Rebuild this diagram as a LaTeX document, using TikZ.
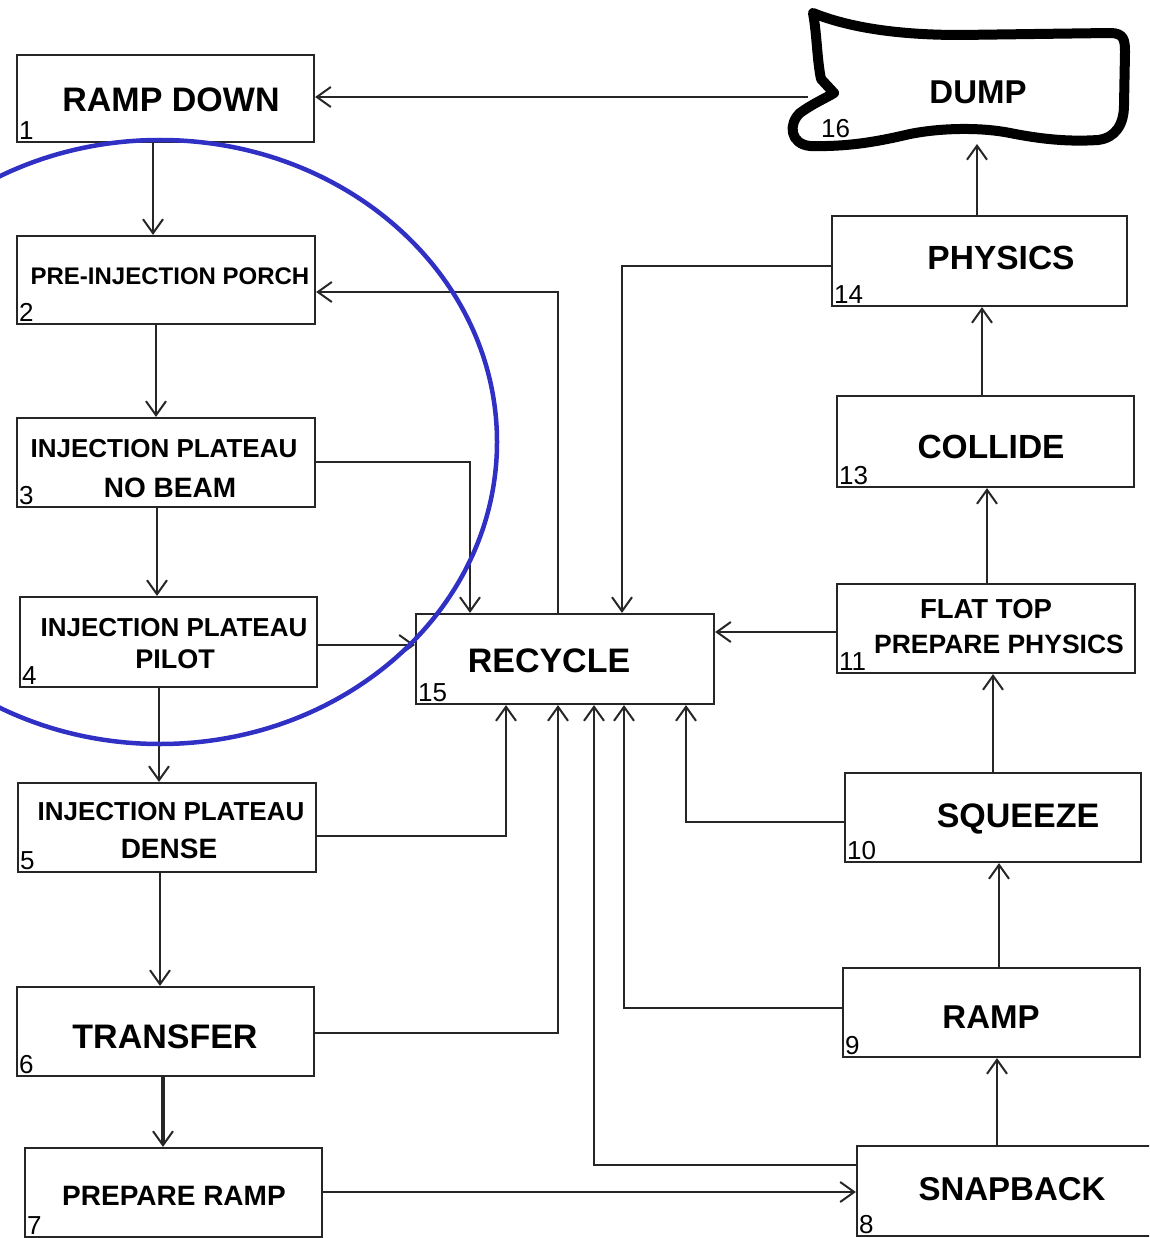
\documentclass[tikz,border=0pt]{standalone}
\usepackage{fontspec}
\setmainfont{Liberation Sans}
\usetikzlibrary{arrows.meta,fit}
\tikzset{
  box/.style={draw=black!85, line width=2.2pt, inner sep=0pt, rectangle},
  lab/.style={font=\bfseries\fontsize{#1}{#1}\selectfont, inner sep=0pt, anchor=base},
  num/.style={font=\fontsize{26}{26}\selectfont, anchor=south west, inner sep=3pt},
  conn/.style={draw=black!85, line width=2.1pt},
  arr/.style={conn, -{Straight Barb[length=14pt,width=20pt,line width=2pt]}},
}
\definecolor{ringblue}{RGB}{48,48,196}
\begin{document}
\begin{tikzpicture}[x=1pt,y=-1pt]
\useasboundingbox (0,0) rectangle (1149,1238);
\clip (0,0) rectangle (1149,1238);
% boxes
\node[box, fit={(17,55) (314,142)}] (b1) {};
\node[box, fit={(17,236) (315,324)}] (b2) {};
\node[box, fit={(17,418) (315,507)}] (b3) {};
\node[box, fit={(20,597) (317,687)}] (b4) {};
\node[box, fit={(18,783) (316,872)}] (b5) {};
\node[box, fit={(17,987) (314,1076)}] (b6) {};
\node[box, fit={(25,1148) (322,1237)}] (b7) {};
\node[box, fit={(857,1146) (1152,1236)}] (b8) {};
\node[box, fit={(843,968) (1140,1057)}] (b9) {};
\node[box, fit={(845,773) (1141,862)}] (b10) {};
\node[box, fit={(837,584) (1135,673)}] (b11) {};
\node[box, fit={(837,396) (1134,487)}] (b13) {};
\node[box, fit={(832,216) (1127,306)}] (b14) {};
\node[box, fit={(416,614) (714,704)}] (b15) {};
% dump shape
\draw[line width=10pt, line join=round, line cap=round]
  (813,13) .. controls (850,28) and (900,35) .. (960,35) -- (1110,33)
  .. controls (1124,33) and (1125,40) .. (1125,52) -- (1124,105)
  .. controls (1124,125) and (1115,138) .. (1098,140)
  .. controls (1068,142) and (1040,139) .. (1010,133)
  .. controls (980,127) and (940,128) .. (910,134)
  .. controls (880,141) and (850,147) .. (810,146)
  .. controls (790,144) and (788,124) .. (800,113)
  .. controls (812,104) and (826,98) .. (834,93)
  -- (821,79) .. controls (817,60) and (817,35) .. (813,13);
\coordinate (dumpin) at (808,97);
\coordinate (dumpbot) at (977,144);
% labels
\node[lab=34] (t1) at (171,112) {RAMP DOWN};
\node[lab=24] (t2) at (170,285) {PRE-INJECTION PORCH};
\node[lab=26] (t3a) at (164,457) {INJECTION PLATEAU};
\node[lab=28] (t3b) at (170,497) {NO BEAM};
\node[lab=26] (t4a) at (174,636) {INJECTION PLATEAU};
\node[lab=27] (t4b) at (175,668) {PILOT};
\node[lab=26] (t5a) at (171,820) {INJECTION PLATEAU};
\node[lab=28] (t5b) at (169,858) {DENSE};
\node[lab=34] (t6) at (165,1048) {TRANSFER};
\node[lab=28] (t7) at (174,1205) {PREPARE RAMP};
\node[lab=33] (t8) at (1012,1200) {SNAPBACK};
\node[lab=33] (t9) at (991,1028) {RAMP};
\node[lab=34] (t10) at (1018,827) {SQUEEZE};
\node[lab=27.5] (t11a) at (986,618) {FLAT TOP};
\node[lab=26.5] (t11b) at (999,653) {PREPARE PHYSICS};
\node[lab=33.5] (t13) at (991,458) {COLLIDE};
\node[lab=33.5] (t14) at (1001,270) {PHYSICS};
\node[lab=34] (t15) at (549,672) {RECYCLE};
\node[lab=33] (t16) at (978,104) {DUMP};
% numbers
\node[num] (n1) at (b1.south west) {1};
\node[num] (n2) at (b2.south west) {2};
\node[num] (n3) at (b3.south west) {3};
\node[num] (n4) at (b4.south west) {4};
\node[num] (n5) at (b5.south west) {5};
\node[num] (n6) at (b6.south west) {6};
\node[num] (n7) at (b7.south west) {7};
\node[num] (n8) at (b8.south west) {8};
\node[num] (n9) at (b9.south west) {9};
\node[num] (n10) at (b10.south west) {10};
\node[num] (n11) at (b11.south west) {11};
\node[num] (n13) at (b13.south west) {13};
\node[num] (n14) at (b14.south west) {14};
\node[num] (n15) at (b15.south west) {15};
\node[num, anchor=base west, inner sep=0pt] (n16) at (821,138) {16};
% main chain
\draw[arr] (dumpin) -- (b1.east |- dumpin);
\draw[arr] (b1.south -| 153,0) -- (b2.north -| 153,0);
\draw[arr] (b2.south -| 156,0) -- (b3.north -| 156,0);
\draw[arr] (b3.south -| 157,0) -- (b4.north -| 157,0);
\draw[arr] (b4.south -| 159,0) -- (b5.north -| 159,0);
\draw[arr] (b5.south -| 160,0) -- (b6.north -| 160,0);
\draw[arr, line width=3.5pt] (b6.south -| 163,0) -- (b7.north -| 163,0);
\draw[arr] (b7.east |- 0,1192) -- (b8.west |- 0,1192);
\draw[arr] (b8.north -| 997,0) -- (b9.south -| 997,0);
\draw[arr] (b9.north -| 999,0) -- (b10.south -| 999,0);
\draw[arr] (b10.north -| 993,0) -- (b11.south -| 993,0);
\draw[arr] (b11.north -| 987,0) -- (b13.south -| 987,0);
\draw[arr] (b13.north -| 982,0) -- (b14.south -| 982,0);
\draw[arr] (b14.north -| dumpbot) -- (dumpbot);
% recycle links
\draw[arr] (b15.north -| 558,0) |- (b2.east |- 0,292);
\draw[arr] (b3.east |- 0,462) -| (b15.north -| 470,0);
\draw[arr] (b4.east |- 0,645) -- (b15.west |- 0,645);
\draw[arr] (b5.east |- 0,836) -| (b15.south -| 506,0);
\draw[arr] (b6.east |- 0,1033) -| (b15.south -| 558,0);
\draw[arr] (b8.west |- 0,1165) -| (b15.south -| 594,0);
\draw[arr] (b9.west |- 0,1008) -| (b15.south -| 624,0);
\draw[arr] (b10.west |- 0,822) -| (b15.south -| 686,0);
\draw[arr] (b11.west |- 0,632) -- (b15.east |- 0,632);
\draw[arr] (b14.west |- 0,266) -| (b15.north -| 622,0);
% blue ring
\draw[ringblue, line width=4.5pt] (160,442) ellipse [x radius=337, y radius=302];
\end{tikzpicture}
\end{document}
